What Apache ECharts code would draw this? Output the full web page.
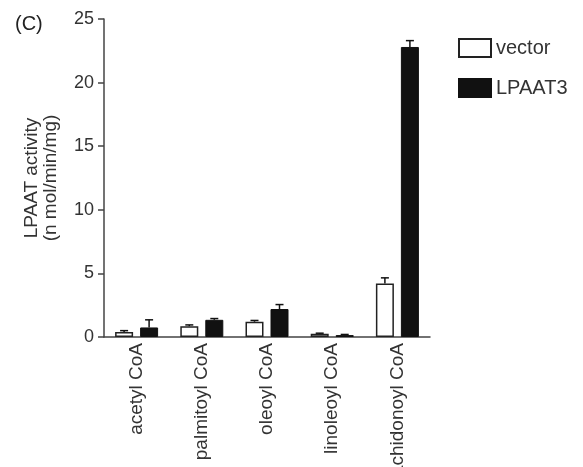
<!DOCTYPE html>
<html>
<head>
<meta charset="utf-8">
<script src="https://cdn.jsdelivr.net/npm/echarts@6/dist/echarts.min.js"></script>
<style>
  html, body { margin: 0; padding: 0; background: #fff; }
  #chart { width: 583px; height: 467px; }
</style>
</head>
<body>
<div id="chart"></div>
<script>
// values (n mol/min/mg)
const categories = ['acetyl CoA', 'palmitoyl CoA', 'oleoyl CoA', 'linoleoyl CoA', 'arachidonoyl CoA'];
const vectorVals = [0.4, 0.85, 1.2, 0.25, 4.2];
const vectorErr = [0.1, 0.1, 0.1, 0.05, 0.45];
const lpaatVals = [0.75, 1.35, 2.2, 0.15, 22.8];
const lpaatErr = [0.6, 0.1, 0.35, 0.05, 0.5];
const yTicks = [0, 5, 10, 15, 20, 25];

const font = 'Liberation Sans, Arial, Helvetica, sans-serif';
const barW = 18;
const gapPx = 7;

function errorSeries(vals, errs, offset) {
  return {
    type: 'custom',
    silent: true,
    z: 5,
    data: vals.map((v, i) => [i, v, errs[i]]),
    renderItem: function (params, api) {
      const base = api.coord([api.value(0), api.value(1)]);
      const top = api.coord([api.value(0), api.value(1) + api.value(2)]);
      const x = base[0] + offset;
      const st = { stroke: '#111', lineWidth: 1.5 };
      return {
        type: 'group',
        children: [
          { type: 'line', shape: { x1: x, y1: base[1], x2: x, y2: top[1] }, style: st },
          { type: 'line', shape: { x1: x - 4, y1: top[1], x2: x + 4, y2: top[1] }, style: st }
        ]
      };
    }
  };
}

const myChart = echarts.init(document.getElementById('chart'));
const option = {
  animation: false,
  textStyle: { fontFamily: font },
  title: {
    text: '(C)',
    left: 10,
    top: 9,
    textStyle: { fontFamily: font, fontSize: 20, fontWeight: 'normal', color: '#222' }
  },
  legend: {
    orient: 'vertical',
    left: 453,
    top: 33,
    itemWidth: 32,
    itemHeight: 18,
    itemGap: 20,
    icon: 'rect',
    data: ['vector', 'LPAAT3'],
    textStyle: { fontFamily: font, fontSize: 20, color: '#333' }
  },
  grid: { left: 104, right: 153, top: 19, bottom: 130, outerBoundsMode: 'none' },
  xAxis: {
    type: 'category',
    data: categories,
    axisLine: { lineStyle: { color: '#444', width: 1.5 } },
    axisTick: { show: false },
    axisLabel: {
      rotate: 90, margin: 6, fontSize: 19, color: '#333', fontFamily: font,
      padding: [10, 0, 0, 0]
    }
  },
  yAxis: {
    type: 'value',
    min: 0,
    max: 25,
    interval: 5,
    name: 'LPAAT activity\n(n mol/min/mg)',
    nameLocation: 'middle',
    nameGap: 44,
    nameTextStyle: { fontFamily: font, fontSize: 19, lineHeight: 19, color: '#333' },
    axisLine: { show: true, lineStyle: { color: '#444', width: 1.5 } },
    axisTick: { show: true, length: 6, lineStyle: { color: '#444', width: 1.5 } },
    splitLine: { show: false },
    axisLabel: {
      fontSize: 18,
      color: '#333',
      fontFamily: font,
      margin: 10,
      formatter: (v) => (yTicks.indexOf(v) >= 0 ? String(v) : '')
    }
  },
  series: [
    {
      name: 'vector',
      type: 'bar',
      data: vectorVals,
      barWidth: barW,
      barGap: (gapPx / barW * 100) + '%',
      itemStyle: { color: '#fff', borderColor: '#222', borderWidth: 1.5 }
    },
    {
      name: 'LPAAT3',
      type: 'bar',
      data: lpaatVals,
      barWidth: barW,
      itemStyle: { color: '#111', borderColor: '#111', borderWidth: 1 }
    },
    errorSeries(vectorVals, vectorErr, -(barW + gapPx) / 2),
    errorSeries(lpaatVals, lpaatErr, (barW + gapPx) / 2)
  ]
};
myChart.setOption(option);
</script>
</body>
</html>
